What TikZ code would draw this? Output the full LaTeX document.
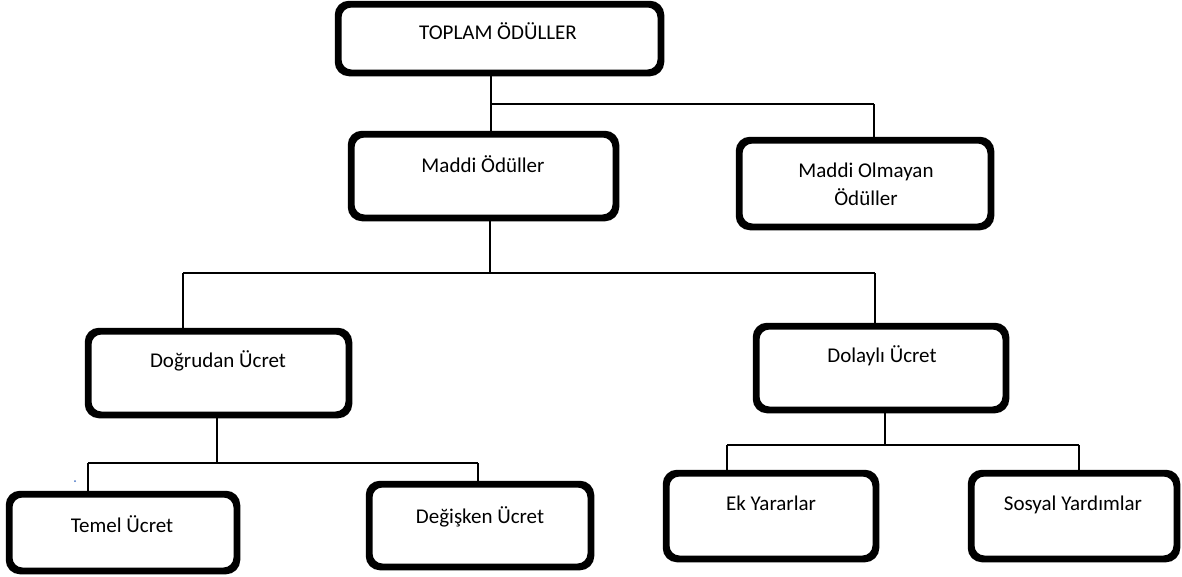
\documentclass[tikz,border=0pt]{standalone}
\usepackage{fontspec}
\setmainfont{Carlito}
\begin{document}
\begin{tikzpicture}[x=1pt,y=-1pt,
  box/.style={draw=black, line width=4.5pt, rounded corners=12pt, fill=white,
              inner sep=0pt, minimum width=#1},
  lbl/.style={anchor=base, inner sep=0pt, font=\fontsize{21}{28}\selectfont, align=center},
  conn/.style={draw=black, line width=1.6pt}]
\useasboundingbox (0,0) rectangle (1182,576);

% junction points of the tree connectors
\coordinate (j1) at (491,104);
\coordinate (k1) at (874,104);
\coordinate (j2) at (490,273);
\coordinate (a2) at (183,273);
\coordinate (b2) at (875,273);
\coordinate (j3) at (217,463);
\coordinate (a3) at (88,463);
\coordinate (b3) at (478,463);
\coordinate (j4) at (885,445);
\coordinate (a4) at (727,445);
\coordinate (b4) at (1079,445);

% boxes
\node[box=320.5pt, minimum height=66.5pt] (top) at (499.5,38.5) {};
\node[box=262.5pt, minimum height=81.5pt] (mat) at (483.5,176) {};
\node[box=249.5pt, minimum height=84.5pt] (nonmat) at (865,183.5) {};
\node[box=258.5pt, minimum height=81.5pt] (direct) at (218.5,373) {};
\node[box=247.5pt, minimum height=81.5pt] (indirect) at (881,368) {};
\node[box=225.5pt, minimum height=74.5pt] (base) at (123,532.5) {};
\node[box=219.5pt, minimum height=80.5pt] (var) at (480,525.5) {};
\node[box=207.5pt, minimum height=83.5pt] (extra) at (771,516) {};
\node[box=203.5pt, minimum height=83.5pt] (social) at (1074,516) {};

% connectors
\draw[conn] (j1 |- top.south) -- (j1) -- (k1);
\draw[conn] (j1) -- (j1 |- mat.north);
\draw[conn] (k1) -- (k1 |- nonmat.north);

\draw[conn] (j2 |- mat.south) -- (j2);
\draw[conn] (a2) -- (b2);
\draw[conn] (a2) -- (a2 |- direct.north);
\draw[conn] (b2) -- (b2 |- indirect.north);

\draw[conn] (j3 |- direct.south) -- (j3);
\draw[conn] (a3) -- (b3);
\draw[conn] (a3) -- (a3 |- base.north);
\draw[conn] (b3) -- (b3 |- var.north);

\draw[conn] (j4 |- indirect.south) -- (j4);
\draw[conn] (a4) -- (b4);
\draw[conn] (a4) -- (a4 |- extra.north);
\draw[conn] (b4) -- (b4 |- social.north);

% redraw box outlines over the connector ends
\foreach \n in {top,mat,nonmat,direct,indirect,base,var,extra,social}
  \draw[line width=4.5pt, rounded corners=12pt]
    (\n.north west) rectangle (\n.south east);

% labels
\node[lbl] (top-t) at (498,39) {TOPLAM ÖDÜLLER};
\node[lbl] (mat-t) at (483,172) {Maddi Ödüller};
\node[lbl] (nonmat-t) at (866,205) {Maddi Olmayan\\Ödüller};
\node[lbl] (direct-t) at (218,367) {Doğrudan Ücret};
\node[lbl] (indirect-t) at (882,362) {Dolaylı Ücret};
\node[lbl] (base-t) at (122,532) {Temel Ücret};
\node[lbl] (var-t) at (480,523) {Değişken Ücret};
\node[lbl] (extra-t) at (771,510) {Ek Yararlar};
\node[lbl] (social-t) at (1073,510) {Sosyal Yardımlar};

% small stray mark
\node[circle, fill={rgb,255:red,68;green,114;blue,196}, inner sep=0pt,
      minimum size=2pt] (mark) at (75,481) {};
\end{tikzpicture}
\end{document}
